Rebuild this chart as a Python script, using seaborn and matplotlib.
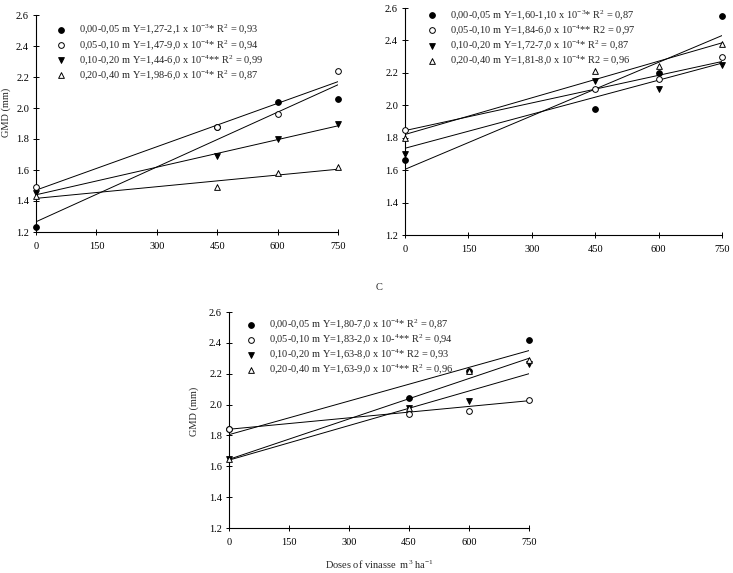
import numpy as np
import pandas as pd
import matplotlib
matplotlib.use("Agg")
import matplotlib.pyplot as plt
import seaborn as sns

sns.set_style("ticks")
plt.rcParams['font.family'] = ['Liberation Serif', 'DejaVu Serif']
plt.rcParams['mathtext.fontset'] = 'custom'
plt.rcParams['mathtext.rm'] = 'Liberation Serif'
plt.rcParams['mathtext.it'] = 'Liberation Serif:italic'
plt.rcParams['mathtext.bf'] = 'Liberation Serif:bold'

doses = [0, 450, 600, 750]
layers = ["0,00-0,05", "0,05-0,10", "0,10-0,20", "0,20-0,40"]

# Panel A observed values
a_vals = {
    "0,00-0,05": [1.23, 1.88, 2.04, 2.06],
    "0,05-0,10": [1.49, 1.88, 1.96, 2.24],
    "0,10-0,20": [1.45, 1.69, 1.80, 1.90],
    "0,20-0,40": [1.43, 1.49, 1.58, 1.62],
}
# Panel A fitted lines (value at 0 and at 750)
a_line_start = [1.266, 1.47, 1.44, 1.417]
a_line_end = [2.15, 2.17, 1.885, 1.605]
a_labels = [
    r"0,00-0,05 m Y=1,27-2,1 x 10$^{-3}$* R$^{2}$ = 0,93",
    r"0,05-0,10 m Y=1,47-9,0 x 10$^{-4}$* R$^{2}$ = 0,94",
    r"0,10-0,20 m Y=1,44-6,0 x 10$^{-4}$** R$^{2}$ = 0,99",
    r"0,20-0,40 m Y=1,98-6,0 x 10$^{-4}$* R$^{2}$ = 0,87",
]

# Panel B
b_vals = {
    "0,00-0,05": [1.66, 1.98, 2.20, 2.55],
    "0,05-0,10": [1.85, 2.10, 2.16, 2.30],
    "0,10-0,20": [1.70, 2.15, 2.10, 2.25],
    "0,20-0,40": [1.80, 2.21, 2.24, 2.38],
}
b_line_start = [1.605, 1.844, 1.735, 1.82]
b_line_end = [2.43, 2.27, 2.26, 2.385]
b_labels = [
    r"0,00-0,05 m Y=1,60-1,10 x 10$^{-3}$* R$^{2}$ = 0,87",
    r"0,05-0,10 m Y=1,84-6,0 x 10$^{-4}$** R2 = 0,97",
    r"0,10-0,20 m Y=1,72-7,0 x 10$^{-4}$* R$^{2}$ = 0,87",
    r"0,20-0,40 m Y=1,81-8,0 x 10$^{-4}$* R2 = 0,96",
]

# Panel C
c_vals = {
    "0,00-0,05": [1.84, 2.04, 2.22, 2.42],
    "0,05-0,10": [1.84, 1.94, 1.96, 2.03],
    "0,10-0,20": [1.65, 1.98, 2.02, 2.26],
    "0,20-0,40": [1.65, 1.98, 2.22, 2.29],
}
c_line_start = [1.805, 1.84, 1.64, 1.645]
c_line_end = [2.35, 2.025, 2.20, 2.30]
c_labels = [
    r"0,00-0,05 m Y=1,80-7,0 x 10$^{-4}$* R$^{2}$ = 0,87",
    r"0,05-0,10 m Y=1,83-2,0 x 10-$^{4}$** R$^{2}$ = 0,94",
    r"0,10-0,20 m Y=1,63-8,0 x 10$^{-4}$* R2 = 0,93",
    r"0,20-0,40 m Y=1,63-9,0 x 10$^{-4}$** R$^{2}$ = 0,96",
]

markers = ["o", "o", "v", "^"]
faces = ["black", "white", "black", "white"]

W, H = 733, 573
fig = plt.figure(figsize=(W / 100, H / 100), dpi=100)

def px_axes(l, r, t, b):
    return fig.add_axes([l / W, 1 - b / H, (r - l) / W, (b - t) / H])

axA = px_axes(36, 338, 15, 232)
axB = px_axes(405, 722, 8, 235)
axC = px_axes(229, 529, 312, 528)

FS = 7.5

def draw(ax, vals, starts, ends, labels, leg_xy):
    for i, lay in enumerate(layers):
        ldf = pd.DataFrame({"x": [0, 750], "y": [starts[i], ends[i]]})
        sns.lineplot(data=ldf, x="x", y="y", ax=ax, color="black", lw=0.7,
                     zorder=2, legend=False)
    handles = []
    for i, lay in enumerate(layers):
        df = pd.DataFrame({"x": doses, "y": vals[lay]})
        sns.scatterplot(data=df, x="x", y="y", ax=ax, marker=markers[i],
                        color=faces[i], edgecolor="black", linewidth=0.7,
                        s=17, zorder=3 + i, clip_on=False, legend=False)
        handles.append(ax.collections[-1])
    ax.set_xlim(0, 750)
    ax.set_ylim(1.2, 2.6)
    ax.set_xticks([0, 150, 300, 450, 600, 750])
    ax.set_yticks(np.arange(1.2, 2.61, 0.2))
    ax.set_yticklabels([f"{v:.1f}" for v in np.arange(1.2, 2.61, 0.2)])
    ax.tick_params(direction="inout", length=4, width=0.7, labelsize=FS,
                   colors="black")
    ax.tick_params(axis="x", pad=5)
    ax.tick_params(axis="y", pad=3)
    for s in ["left", "bottom"]:
        ax.spines[s].set_linewidth(0.8)
        ax.spines[s].set_color("black")
    sns.despine(ax=ax)
    ax.set_xlabel("")
    ax.set_ylabel("")
    ax.legend(handles, labels, loc="upper left", bbox_to_anchor=leg_xy,
              frameon=False, fontsize=FS, handlelength=1.0,
              handletextpad=1.2, labelspacing=0.12, borderpad=0,
              borderaxespad=0)

draw(axA, a_vals, a_line_start, a_line_end, a_labels, (0.066, 0.965))
draw(axB, b_vals, b_line_start, b_line_end, b_labels, (0.069, 1.0))
draw(axC, c_vals, c_line_start, c_line_end, c_labels, (0.057, 0.975))

axA.set_ylabel("GMD (mm)", fontsize=FS)
axA.yaxis.set_label_coords(-0.083, 0.55)
axC.set_ylabel("GMD (mm)", fontsize=FS)
axC.yaxis.set_label_coords(-0.1, 0.54)
axC.set_xlabel(r"Doses of vinasse  m$^{3}$ ha$^{-1}$", fontsize=FS)
axC.xaxis.set_label_coords(0.5, -0.14)

fig.text(379 / W, 1 - 287 / H, "C", fontsize=FS, ha="center", va="center")

fig.savefig("out.png", dpi=100)
